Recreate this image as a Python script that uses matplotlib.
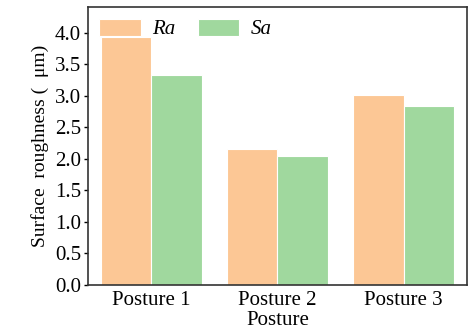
import matplotlib
matplotlib.use('Agg')
import matplotlib.pyplot as plt
import numpy as np

postures = ['Posture 1', 'Posture 2', 'Posture 3']
ra = [3.94, 2.16, 3.02]
sa = [3.33, 2.05, 2.84]

plt.rcParams['font.family'] = ['Liberation Serif', 'DejaVu Serif']
plt.rcParams['font.size'] = 15

fig = plt.figure(figsize=(4.69, 3.34), dpi=100)
ax = fig.add_axes([0.1876, 0.1467, 0.808, 0.832])

x = np.arange(len(postures))
w = 0.4
ax.bar(x - w / 2, ra, w, color='#fcc795', edgecolor='white', linewidth=0.8, label='Ra')
ax.bar(x + w / 2, sa, w, color='#a0d89e', edgecolor='white', linewidth=0.8, label='Sa')

ax.set_xlim(-0.5, 2.5)
ax.set_ylim(0, 4.41)
ax.set_yticks(np.arange(0, 4.01, 0.5))
ax.set_yticklabels([f'{v:.1f}' for v in np.arange(0, 4.01, 0.5)])
ax.set_xticks(x)
ax.set_xticklabels(postures)
ax.set_xlabel('Posture', labelpad=1)
ax.set_ylabel('Surface  roughness (  μm)', fontsize=14, labelpad=4)
ax.tick_params(axis='y', direction='out', length=3, width=1, pad=2)
ax.tick_params(axis='x', length=0, pad=4)
for s in ax.spines.values():
    s.set_linewidth(1.2)
    s.set_color('#333333')

leg = ax.legend(ncol=2, frameon=False, loc='upper left', bbox_to_anchor=(0.0, 1.0),
                borderaxespad=0.15, handlelength=2.0, handleheight=0.9,
                handletextpad=0.55, columnspacing=1.05,
                prop={'style': 'italic', 'size': 15})

fig.savefig('out.png', dpi=100)
